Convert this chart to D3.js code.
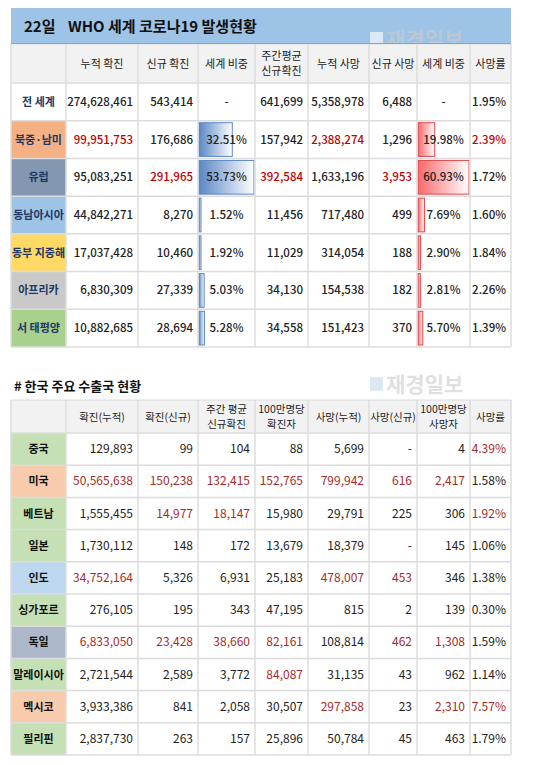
<!DOCTYPE html>
<html><head><meta charset="utf-8">
<script src="https://cdn.jsdelivr.net/npm/d3@7"></script>
<style>body{margin:0;background:#fff}text{font-family:"Noto Sans CJK KR","Noto Sans",sans-serif}</style>
</head><body><div id="vis"></div>
<script>
// WHO world table
var worldHeaders = ['', '누적 확진', '신규 확진', '세계 비중', '주간평균\n신규확진', '누적 사망', '신규 사망', '세계 비중', '사망률'];
var regions = ['전 세계', '북중·남미', '유럽', '동남아시아', '동부 지중해', '아프리카', '서 태평양'];
var regionColors = ['#ffffff', '#f4b183', '#8497b0', '#9dc3e6', '#ffd966', '#c9c9c9', '#a9d18e'];
var cumCases = ['274,628,461', '99,951,753', '95,083,251', '44,842,271', '17,037,428', '6,830,309', '10,882,685'];
var newCases = ['543,414', '176,686', '291,965', '8,270', '10,460', '27,339', '28,694'];
var caseShare = [null, 32.51, 53.73, 1.52, 1.92, 5.03, 5.28];
var weeklyAvg = ['641,699', '157,942', '392,584', '11,456', '11,029', '34,130', '34,558'];
var cumDeaths = ['5,358,978', '2,388,274', '1,633,196', '717,480', '314,054', '154,538', '151,423'];
var newDeaths = ['6,488', '1,296', '3,953', '499', '188', '182', '370'];
var deathShare = [null, 19.98, 60.93, 7.69, 2.90, 2.81, 5.70];
var deathRate = ['1.95%', '2.39%', '1.72%', '1.60%', '1.84%', '2.26%', '1.39%'];
var worldRed = [[], [1, 5, 8], [2, 4, 6], [], [], [], []];

// Korea export partners table
var koreaHeaders = ['', '확진(누적)', '확진(신규)', '주간 평균\n신규확진', '100만명당\n확진자', '사망(누적)', '사망(신규)', '100만명당\n사망자', '사망률'];
var countries = ['중국', '미국', '베트남', '일본', '인도', '싱가포르', '독일', '말레이시아', '멕시코', '필리핀'];
var countryColors = ['#c5e0b4', '#f8cbad', '#c5e0b4', '#c5e0b4', '#bdd7ee', '#c5e0b4', '#adb9ca', '#c5e0b4', '#f8cbad', '#c5e0b4'];
var kCum = ['129,893', '50,565,638', '1,555,455', '1,730,112', '34,752,164', '276,105', '6,833,050', '2,721,544', '3,933,386', '2,837,730'];
var kNew = ['99', '150,238', '14,977', '148', '5,326', '195', '23,428', '2,589', '841', '263'];
var kWeekly = ['104', '132,415', '18,147', '172', '6,931', '343', '38,660', '3,772', '2,058', '157'];
var kPerMil = ['88', '152,765', '15,980', '13,679', '25,183', '47,195', '82,161', '84,087', '30,507', '25,896'];
var kCumDeath = ['5,699', '799,942', '29,791', '18,379', '478,007', '815', '108,814', '31,135', '297,858', '50,784'];
var kNewDeath = ['-', '616', '225', '-', '453', '2', '462', '43', '23', '45'];
var kDeathPerMil = ['4', '2,417', '306', '145', '346', '139', '1,308', '962', '2,310', '463'];
var kRate = ['4.39%', '1.58%', '1.92%', '1.06%', '1.38%', '0.30%', '1.59%', '1.14%', '7.57%', '1.79%'];
var koreaRed = [[8], [1, 2, 3, 4, 5, 6, 7], [2, 3, 8], [], [1, 5, 6], [], [1, 2, 3, 4, 6, 7], [4], [5, 7, 8], []];

var colX = [11, 66, 138, 198, 255, 308, 369, 417, 470, 511];
var gridColor = '#dcdcdc';

var svg = d3.select('#vis').append('svg').attr('width', 550).attr('height', 765);

// faint watermark logo
function watermark(y) {
	svg.append('rect').attr('x', 370).attr('y', y - 15).attr('width', 13).attr('height', 14).attr('fill', '#dce8f4');
	svg.append('text').attr('x', 386).attr('y', y).attr('font-size', 21).attr('font-weight', 'bold')
		.attr('fill', '#cccccc').attr('fill-opacity', 0.6).text('재경일보');
}

// title band
svg.append('rect').attr('x', 11).attr('y', 8).attr('width', 500).attr('height', 36).attr('fill', '#9dc3e6');
svg.append('text').attr('x', 24).attr('y', 32).attr('font-size', 15).attr('font-weight', 'bold')
	.attr('fill', '#111').text('22일');
svg.append('text').attr('x', 68).attr('y', 32).attr('font-size', 15).attr('font-weight', 'bold')
	.attr('fill', '#111').text('WHO 세계 코로나19 발생현황');
watermark(47);
svg.append('line').attr('x1', 11).attr('x2', 511).attr('y1', 44).attr('y2', 44)
	.attr('stroke', '#2e75b6').attr('stroke-width', 2);

var worldRows = regions.map(function(r, i) {
	return [r, cumCases[i], newCases[i], caseShare[i], weeklyAvg[i], cumDeaths[i], newDeaths[i], deathShare[i], deathRate[i]];
});
var koreaRows = countries.map(function(c, i) {
	return [c, kCum[i], kNew[i], kWeekly[i], kPerMil[i], kCumDeath[i], kNewDeath[i], kDeathPerMil[i], kRate[i]];
});

// gradient defs for data bars
var defs = svg.append('defs');
function grad(id, c1) {
	var g = defs.append('linearGradient').attr('id', id);
	g.append('stop').attr('offset', '0%').attr('stop-color', c1);
	g.append('stop').attr('offset', '100%').attr('stop-color', '#ffffff');
}
grad('gBlue', '#5b87c5');
grad('gRed', '#f8696b');

function drawTable(opt) {
	var g = svg.append('g');
	var headH = opt.headerBottom - opt.top;
	var rowH = (opt.bottom - opt.headerBottom) / opt.rows.length;
	var y = d3.scaleLinear().domain([0, opt.rows.length]).range([opt.headerBottom, opt.bottom]);

	g.append('rect').attr('x', colX[0]).attr('y', opt.top).attr('width', colX[9] - colX[0])
		.attr('height', headH).attr('fill', '#f2f2f2');

	opt.rows.forEach(function(row, i) {
		g.append('rect').attr('x', colX[0]).attr('y', y(i)).attr('width', colX[1] - colX[0])
			.attr('height', rowH).attr('fill', opt.colors[i]);
	});

	// data bars
	if (opt.bars) {
		opt.bars.forEach(function(b) {
			var ci = b.col;
			var w = d3.scaleLinear().domain([0, b.max]).range([0, colX[ci + 1] - colX[ci] - 2]);
			opt.rows.forEach(function(row, i) {
				if (row[ci] == null) return;
				g.append('rect').attr('x', colX[ci] + 1).attr('y', y(i) + 2)
					.attr('width', Math.max(2, w(row[ci]))).attr('height', rowH - 4)
					.attr('fill', 'url(#' + b.grad + ')').attr('stroke', b.stroke).attr('stroke-width', 1);
			});
		});
	}

	// grid
	for (var k = 0; k <= opt.rows.length; k++) {
		g.append('line').attr('x1', colX[0]).attr('x2', colX[9]).attr('y1', y(k)).attr('y2', y(k))
			.attr('stroke', gridColor).attr('stroke-width', 1.5);
	}
	g.append('line').attr('x1', colX[0]).attr('x2', colX[9]).attr('y1', opt.top).attr('y2', opt.top)
		.attr('stroke', gridColor);
	colX.forEach(function(x) {
		g.append('line').attr('x1', x).attr('x2', x).attr('y1', opt.top).attr('y2', opt.bottom)
			.attr('stroke', gridColor).attr('stroke-width', 1.5);
	});

	// headers
	opt.headers.forEach(function(h, ci) {
		var lines = h.split('\n');
		var cx = (colX[ci] + colX[ci + 1]) / 2;
		lines.forEach(function(l, li) {
			g.append('text').attr('text-anchor', 'middle').attr('font-size', opt.headSize).attr('fill', '#222')
				.attr('x', cx)
				.attr('y', opt.top + headH / 2 + 4 + (li - (lines.length - 1) / 2) * 15).text(l);
		});
	});

	// cells
	opt.rows.forEach(function(row, i) {
		var cy = y(i) + rowH / 2 + 4;
		row.forEach(function(v, ci) {
			var txt = v;
			if (v == null) txt = '-';
			else if (typeof v === 'number') txt = v.toFixed(2) + '%';
			var isPct = typeof v === 'number' || v == null;
			var anchor = 'end', x = colX[ci + 1] - 5;
			if (ci === 0 || (opt.centerPct && isPct && (ci === 3 || ci === 7))) {
				anchor = 'middle'; x = (colX[ci] + colX[ci + 1]) / 2;
			}
			if (txt === '-' && opt.centerPct) { anchor = 'middle'; x = (colX[ci] + colX[ci + 1]) / 2; }
			var red = opt.red[i].indexOf(ci) >= 0;
			g.append('text').attr('x', x).attr('y', cy).attr('text-anchor', anchor)
				.attr('font-size', ci === 0 ? 11 : opt.fontSize)
				.attr('font-weight', ci === 0 ? 'bold' : opt.weight)
				.attr('fill', red ? opt.redColor : (ci === 0 ? opt.headColor : '#222'))
				.text(txt);
		});
	});
}

drawTable({
	top: 44, headerBottom: 83, bottom: 347, headers: worldHeaders, rows: worldRows,
	colors: regionColors, red: worldRed, redColor: '#c00000', headColor: '#1f3864',
	fontSize: 11.5, weight: 500, centerPct: true, headSize: 11,
	bars: [{col: 3, max: 53.73, grad: 'gBlue', stroke: '#5b87c5'}, {col: 7, max: 60.93, grad: 'gRed', stroke: '#e0474c'}]
});

svg.append('text').attr('x', 14).attr('y', 391).attr('font-size', 13).attr('font-weight', 'bold')
	.attr('fill', '#111').text('# 한국 주요 수출국 현황');
watermark(392);

drawTable({
	top: 400, headerBottom: 433, bottom: 755, headers: koreaHeaders, rows: koreaRows,
	colors: countryColors, red: koreaRed, redColor: '#a52a2a', headColor: '#111',
	fontSize: 12, weight: 'normal', centerPct: false, headSize: 10.5
});
</script>
</body></html>
